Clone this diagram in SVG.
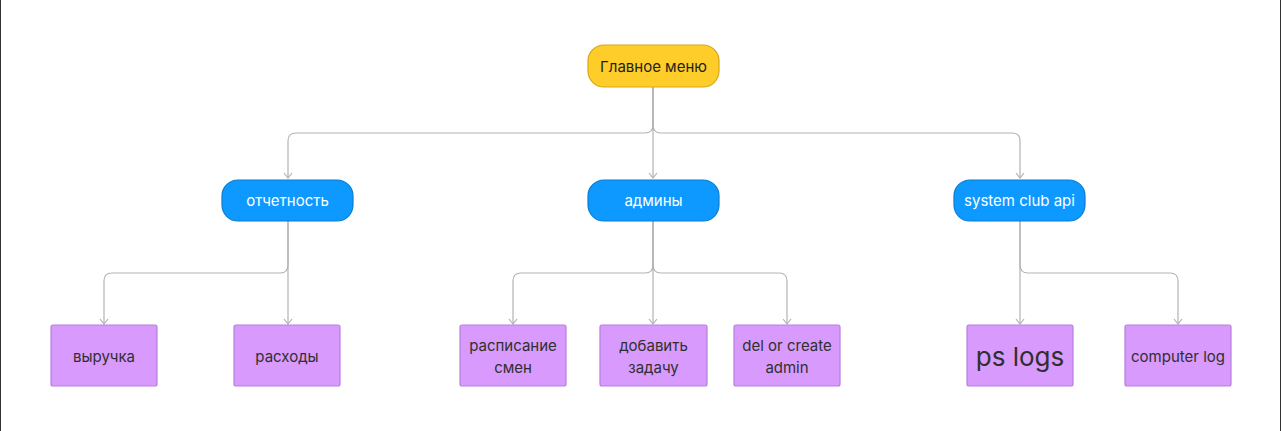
<svg xmlns="http://www.w3.org/2000/svg" width="1282" height="431" viewBox="0 0 1282 431">
<defs>
<marker id="arr" viewBox="0 0 10 10" refX="9" refY="5" markerWidth="10" markerHeight="10" markerUnits="userSpaceOnUse" orient="auto">
<path d="M4,1 L9,5 L4,9" fill="none" stroke="#b3b3b3" stroke-width="1.2"/>
</marker>
<style>
.c{fill:none;stroke:#b3b3b3;stroke-width:1.2}
.root{fill:#ffcd29;stroke:#d6a716;stroke-width:1.2}
.blue{fill:#0d99ff;stroke:#0a7dd1;stroke-width:1.2}
.leaf{fill:#d89afc;stroke:#b67fdb;stroke-width:1.2}
text{font-family:Inter,"Noto Sans",sans-serif;font-size:15px;text-anchor:middle;dominant-baseline:central}
.dk{fill:#1e1e1e}
.lk{fill:#2f2f2f}
.wt{fill:#ffffff}
</style>
</defs>
<rect x="0" y="0" width="1282" height="431" fill="#ffffff"/>
<line x1="0.5" y1="0" x2="0.5" y2="431" stroke="#333" stroke-width="1"/>
<line x1="1280.5" y1="0" x2="1280.5" y2="431" stroke="#333" stroke-width="1"/>
<g id="connectors">
<path class="c" d="M653,87 V178" marker-end="url(#arr)"/>
<path class="c" d="M653,87 V125 Q653,133 645,133 H296 Q288,133 288,141 V178" marker-end="url(#arr)"/>
<path class="c" d="M653,87 V125 Q653,133 661,133 H1012 Q1020,133 1020,141 V178" marker-end="url(#arr)"/>
<path class="c" d="M288,221 V324" marker-end="url(#arr)"/>
<path class="c" d="M288,221 V265 Q288,273 280,273 H112 Q104,273 104,281 V324" marker-end="url(#arr)"/>
<path class="c" d="M653,221 V324" marker-end="url(#arr)"/>
<path class="c" d="M653,221 V265 Q653,273 645,273 H521 Q513,273 513,281 V324" marker-end="url(#arr)"/>
<path class="c" d="M653,221 V265 Q653,273 661,273 H779 Q787,273 787,281 V324" marker-end="url(#arr)"/>
<path class="c" d="M1020,221 V324" marker-end="url(#arr)"/>
<path class="c" d="M1020,221 V265 Q1020,273 1028,273 H1170 Q1178,273 1178,281 V324" marker-end="url(#arr)"/>
</g>
<g id="root"><rect class="root" x="588" y="45" width="131" height="42" rx="16"/><text class="dk" x="653.5" y="66">Главное меню</text></g>
<g id="otchetnost"><rect class="blue" x="222" y="180" width="131" height="41" rx="16"/><text class="wt" x="287.5" y="200.5">отчетность</text></g>
<g id="admins"><rect class="blue" x="588" y="180" width="131" height="41" rx="16"/><text class="wt" x="653.5" y="200.5">админы</text></g>
<g id="api"><rect class="blue" x="954" y="180" width="131" height="41" rx="16"/><text class="wt" x="1019.5" y="200.5">system club api</text></g>
<g id="vyruchka"><rect class="leaf" x="51" y="325" width="106" height="61" rx="2"/><text class="lk" x="104" y="356">выручка</text></g>
<g id="rashody"><rect class="leaf" x="234" y="325" width="106" height="61" rx="2"/><text class="lk" x="287" y="356">расходы</text></g>
<g id="raspisanie"><rect class="leaf" x="460" y="325" width="106" height="61" rx="2"/><text class="lk" x="513" y="345">расписание</text><text class="lk" x="513" y="367">смен</text></g>
<g id="zadacha"><rect class="leaf" x="600" y="325" width="107" height="61" rx="2"/><text class="lk" x="653.5" y="345">добавить</text><text class="lk" x="653.5" y="367">задачу</text></g>
<g id="admin"><rect class="leaf" x="734" y="325" width="106" height="61" rx="2"/><text class="lk" x="787" y="345">del or create</text><text class="lk" x="787" y="367">admin</text></g>
<g id="pslogs"><rect class="leaf" x="967" y="325" width="106" height="61" rx="2"/><text class="lk" x="1020" y="356" style="font-size:26px">ps logs</text></g>
<g id="complog"><rect class="leaf" x="1125" y="325" width="106" height="61" rx="2"/><text class="lk" x="1178" y="356">computer log</text></g>
</svg>
